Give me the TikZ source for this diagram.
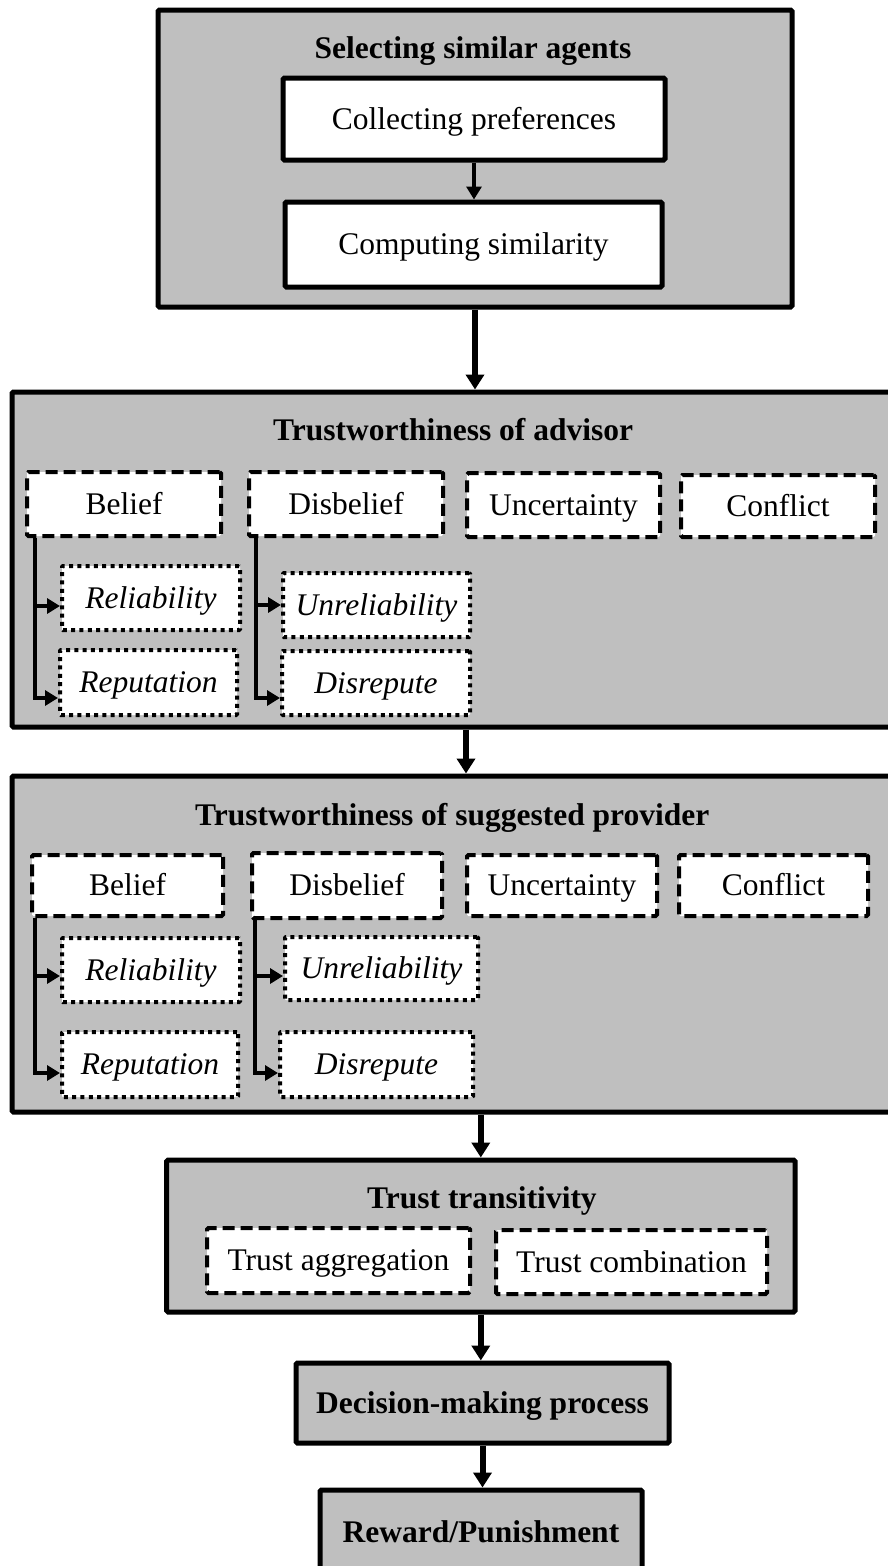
\documentclass[tikz,border=0pt]{standalone}
\usepackage{fontspec}
\setmainfont{Liberation Serif}
\usetikzlibrary{arrows.meta,calc}
\definecolor{panelgray}{RGB}{191,191,191}

% box node from its corner coordinates: style, name, x1, y1, x2, y2, text
\newcommand\boxnode[7]{%
  \node[#1, minimum width={#5-#3}, minimum height={#6-#4}] (#2)
    at ({(#3+#5)/2},{(#4+#6)/2}) {#7};}

\begin{document}
\begin{tikzpicture}[x=1pt,y=-1pt,
  every node/.style={font=\fontsize{31.5}{36}\selectfont, inner sep=0pt,
    text height=20.8pt, text depth=0pt},
  panel/.style={draw, line width=5pt, fill=panelgray, rounded corners=1.5pt},
  solidbox/.style={draw, line width=5pt, fill=white, rounded corners=1.5pt},
  dashbox/.style={draw, line width=4pt, fill=white,
    dash pattern=on 12pt off 6pt, rounded corners=1.5pt},
  dotbox/.style={draw, line width=4pt, fill=white,
    dash pattern=on 4pt off 4.3pt, rounded corners=1pt,
    font=\fontsize{31.5}{36}\selectfont\itshape},
  title/.style={font=\fontsize{31.5}{36}\selectfont\bfseries},
  flow/.style={line width=6pt, -{Triangle[length=15pt,width=18pt]}},
  branch/.style={line width=4pt, -{Triangle[length=13pt,width=15pt]}},
]
\useasboundingbox (0,0) rectangle (887,1566);

% ---- selecting similar agents
\boxnode{panel}{p1}{158}{10}{792}{307}{}
\node[title] (t1) at (473,48.5) {Selecting similar agents};
\boxnode{solidbox}{col}{283}{78}{665}{160}{Collecting preferences}
\boxnode{solidbox}{comp}{285}{202}{662}{287}{Computing similarity}
\draw[line width=4pt, -{Triangle[length=13pt,width=15pt]}] (col.south) -- (comp.north -| col.south);

% ---- trustworthiness of advisor
\boxnode{panel}{p2}{12}{392}{900}{727}{}
\node[title, anchor=west] (t2) at (273,430) {Trustworthiness of advisor};
\boxnode{dashbox}{ab}{27}{472}{221}{536}{Belief}
\boxnode{dashbox}{ad}{249}{472}{443}{536}{Disbelief}
\boxnode{dashbox}{au}{467}{473}{660}{537}{Uncertainty}
\boxnode{dashbox}{ac}{681}{475}{875}{537}{Conflict}
\boxnode{dotbox}{arel}{62}{566}{240}{630}{Reliability}
\boxnode{dotbox}{arep}{60}{650}{237}{715}{Reputation}
\boxnode{dotbox}{aunr}{283}{573}{470}{637}{Unreliability}
\boxnode{dotbox}{adis}{282}{651}{470}{715}{Disrepute}

\coordinate (abx) at ($(ab.south west)+(10,0)$);
\coordinate (adx) at ($(ad.south west)+(9,0)$);
\coordinate (arelin) at ($(arel.west)+(0,8)$);
\coordinate (arepin) at ($(arep.west)+(0,15.5)$);
\coordinate (aunrin) at ($(aunr.west)+(0,0)$);
\coordinate (adisin) at ($(adis.west)+(0,15)$);
\draw[branch] (abx) |- (arepin);
\draw[branch] (abx |- arelin) -- (arelin);
\draw[branch] (adx) |- (adisin);
\draw[branch] (adx |- aunrin) -- (aunrin);

% ---- trustworthiness of suggested provider
\boxnode{panel}{p3}{12}{776}{900}{1112}{}
\node[title, anchor=west] (t3) at (195,815) {Trustworthiness of suggested provider};
\boxnode{dashbox}{sb}{32}{855}{223}{916}{Belief}
\boxnode{dashbox}{sd}{252}{853}{442}{918}{Disbelief}
\boxnode{dashbox}{su}{467}{855}{657}{916}{Uncertainty}
\boxnode{dashbox}{sc}{679}{855}{868}{916}{Conflict}
\boxnode{dotbox}{srel}{62}{938}{240}{1002}{Reliability}
\boxnode{dotbox}{srep}{62}{1032}{238}{1097}{Reputation}
\boxnode{dotbox}{sunr}{285}{937}{478}{1000}{Unreliability}
\boxnode{dotbox}{sdis}{280}{1032}{473}{1097}{Disrepute}

\coordinate (sbx) at ($(sb.south west)+(5,0)$);
\coordinate (sdx) at ($(sd.south west)+(5,0)$);
\coordinate (srelin) at ($(srel.west)+(0,6)$);
\coordinate (srepin) at ($(srep.west)+(0,8.5)$);
\coordinate (sunrin) at ($(sunr.west)+(0,7.5)$);
\coordinate (sdisin) at ($(sdis.west)+(0,8.5)$);
\draw[branch] (sbx) |- (srepin);
\draw[branch] (sbx |- srelin) -- (srelin);
\draw[branch] (sdx) |- (sdisin);
\draw[branch] (sdx |- sunrin) -- (sunrin);

% ---- trust transitivity
\boxnode{panel}{p4}{166.6}{1160}{795}{1312}{}
\node[title] (t4) at (482,1198) {Trust transitivity};
\boxnode{dashbox}{agg}{207}{1228}{470}{1293}{Trust aggregation}
\boxnode{dashbox}{comb}{496}{1230}{767}{1294}{Trust combination}

% ---- decision and feedback
\boxnode{panel,title}{dec}{296}{1363}{669}{1443}{Decision-making process}
\boxnode{panel,title}{rew}{320}{1490}{642}{1574}{Reward/Punishment}

% ---- flow between stages
\draw[flow] (p1.south) -- (p2.north -| p1.south);
\draw[flow] ([xshift=10pt]p2.south) -- ([xshift=10pt]p3.north);
\draw[flow] (p3.south -| p4.north) -- (p4.north);
\draw[flow] (p4.south) -- (dec.north -| p4.south);
\draw[flow] (dec.south) -- (rew.north -| dec.south);
\end{tikzpicture}
\end{document}
